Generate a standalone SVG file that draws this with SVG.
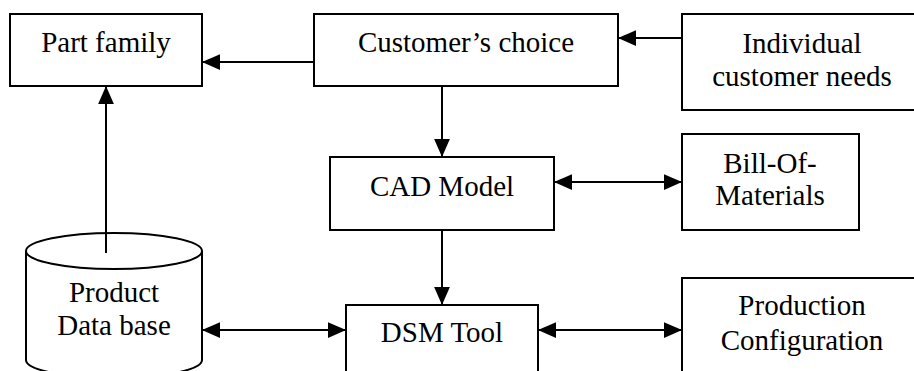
<svg xmlns="http://www.w3.org/2000/svg" width="914" height="371" viewBox="0 0 914 371">
<style>
.b{fill:#fff;stroke:#000;stroke-width:2}
.t{font-family:"Liberation Serif","Times New Roman",serif;font-size:29px;fill:#000;text-anchor:middle}
.c{stroke:#000;stroke-width:2;fill:none}
</style>
<defs>
<marker id="ah" markerUnits="userSpaceOnUse" markerWidth="18" markerHeight="16" refX="16" refY="7" orient="auto-start-reverse" viewBox="0 0 16 14">
<path d="M0,0 L16,7 L0,14 Z" fill="#000"/>
</marker>
</defs>
<g id="part-family"><rect class="b" x="10" y="14" width="192" height="72"/><text class="t" x="106" y="52">Part family</text></g>
<g id="customers-choice"><rect class="b" x="314" y="14" width="304" height="72"/><text class="t" x="466" y="52">Customer’s choice</text></g>
<g id="individual-needs"><rect class="b" x="682" y="14" width="240" height="96"/><text class="t" x="802" y="53">Individual</text><text class="t" x="802" y="86">customer needs</text></g>
<g id="cad-model"><rect class="b" x="330" y="157" width="224" height="73"/><text class="t" x="442" y="196">CAD Model</text></g>
<g id="bom"><rect class="b" x="682" y="134" width="177" height="96"/><text class="t" x="770" y="173">Bill-Of-</text><text class="t" x="770" y="205">Materials</text></g>
<g id="product-db"><path class="b" d="M26,251 V360 A88,18 0 0 0 202,360 V251"/><ellipse class="b" cx="114" cy="251" rx="88" ry="18"/><text class="t" x="114" y="302">Product</text><text class="t" x="114" y="335">Data base</text></g>
<g id="dsm-tool"><rect class="b" x="346" y="305" width="192" height="80"/><text class="t" x="442" y="342">DSM Tool</text></g>
<g id="production-config"><rect class="b" x="682" y="278" width="240" height="110"/><text class="t" x="802" y="315">Production</text><text class="t" x="802" y="350">Configuration</text></g>
<g id="connectors">
<line class="c" x1="314" y1="62" x2="202" y2="62" marker-end="url(#ah)"/>
<line class="c" x1="682" y1="38" x2="618" y2="38" marker-end="url(#ah)"/>
<line class="c" x1="442" y1="86" x2="442" y2="157" marker-end="url(#ah)"/>
<line class="c" x1="554" y1="182" x2="682" y2="182" marker-start="url(#ah)" marker-end="url(#ah)"/>
<line class="c" x1="442" y1="230" x2="442" y2="305" marker-end="url(#ah)"/>
<line class="c" x1="106" y1="253" x2="106" y2="86" marker-end="url(#ah)"/>
<line class="c" x1="202" y1="330" x2="346" y2="330" marker-start="url(#ah)" marker-end="url(#ah)"/>
<line class="c" x1="538" y1="330" x2="682" y2="330" marker-start="url(#ah)" marker-end="url(#ah)"/>
</g>
</svg>
